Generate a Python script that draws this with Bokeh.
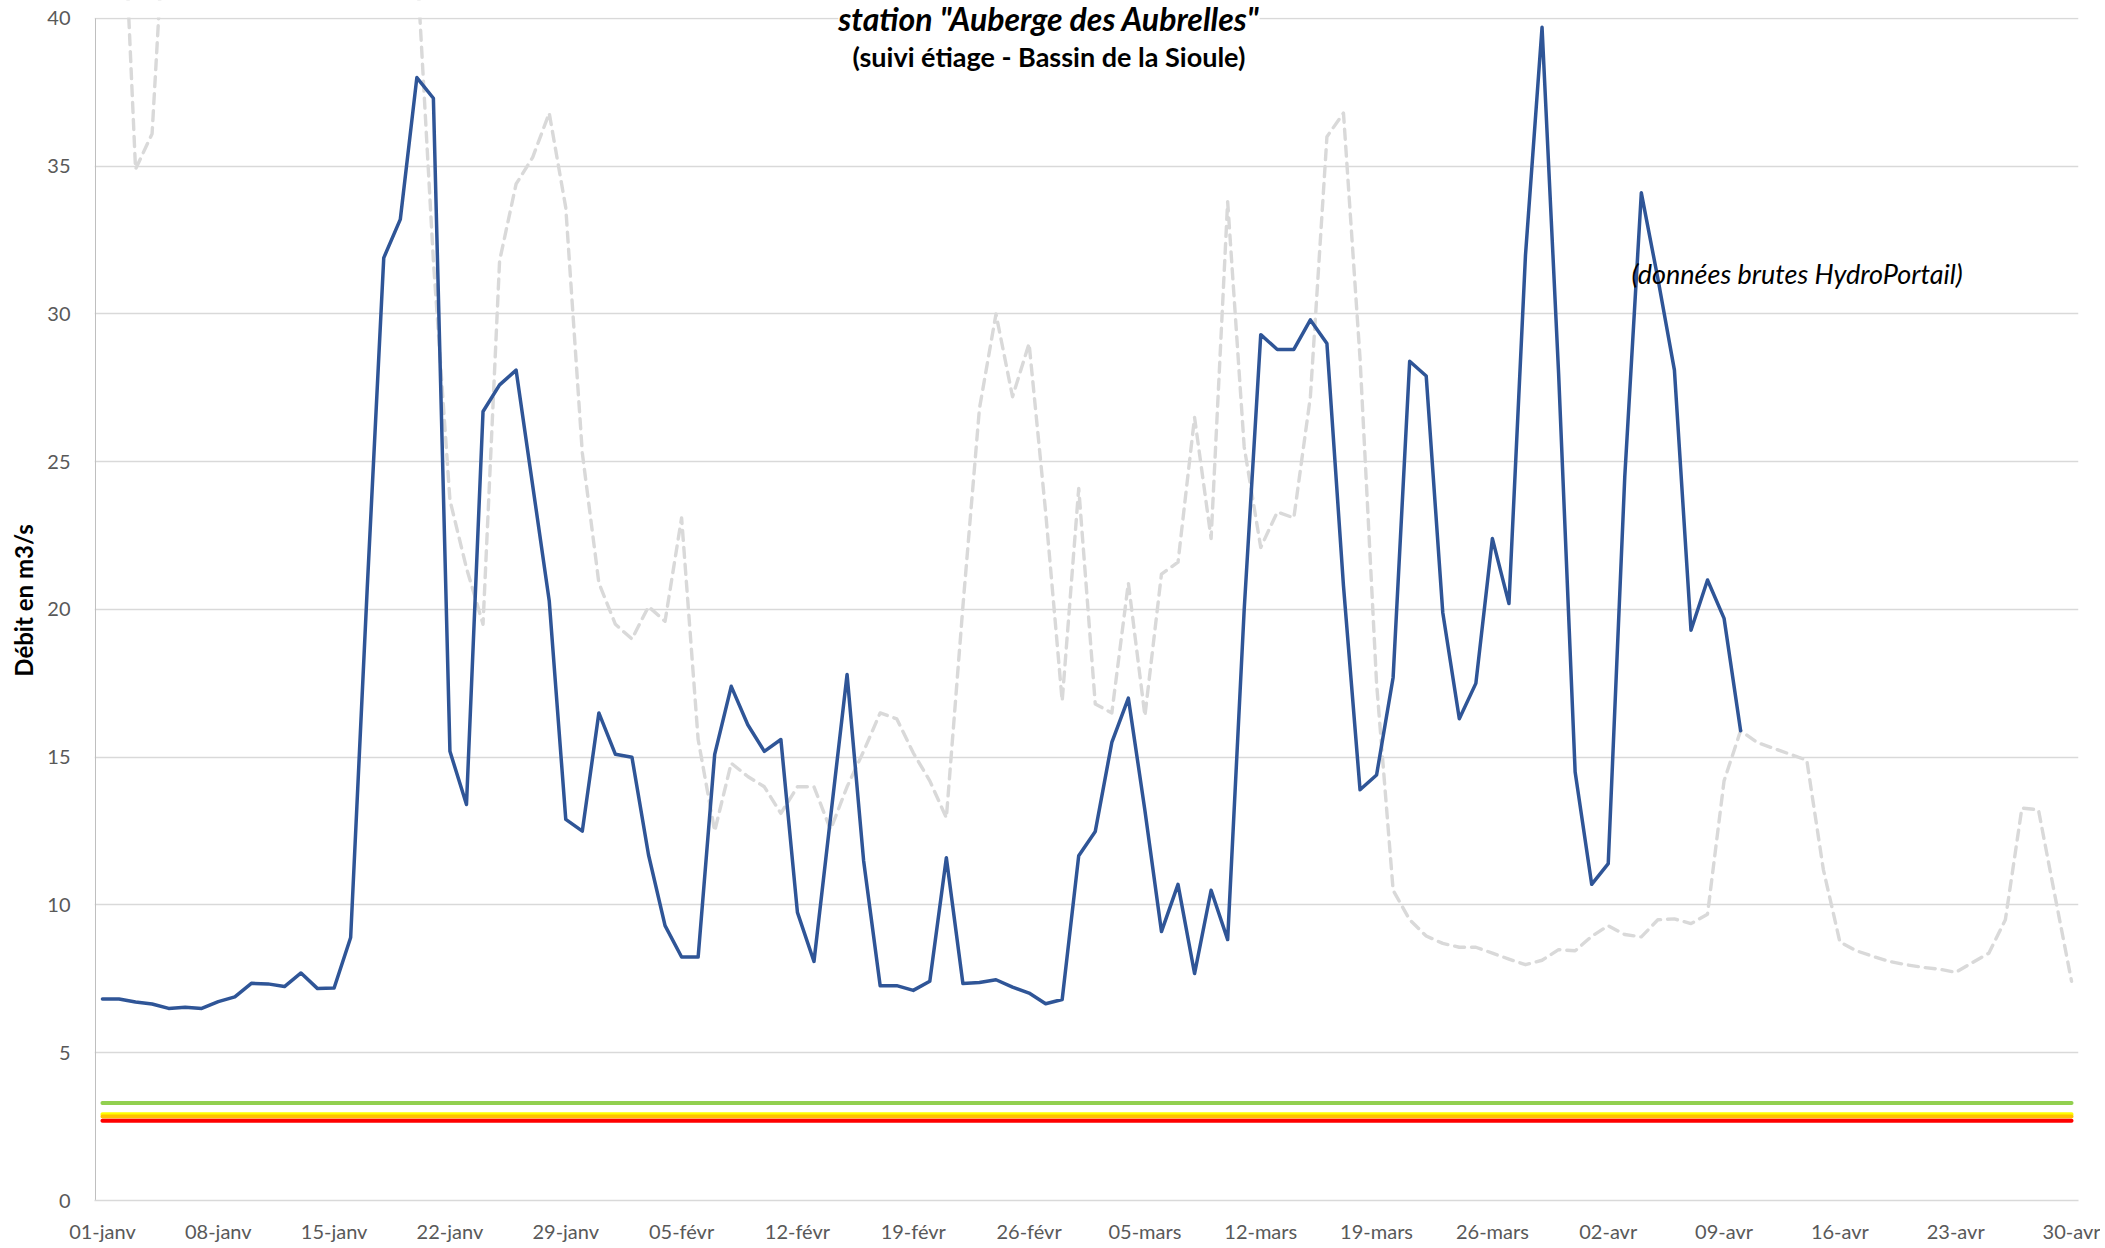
import math
from bokeh.plotting import figure
from bokeh.models import Range1d, FixedTicker, Label, BoxAnnotation
from bokeh.embed import file_html
from bokeh.resources import INLINE

NaN = float("nan")

# ---- data ----
tick_labels = ["01-janv", "08-janv", "15-janv", "22-janv", "29-janv", "05-févr",
               "12-févr", "19-févr", "26-févr", "05-mars", "12-mars", "19-mars",
               "26-mars", "02-avr", "09-avr", "16-avr", "23-avr", "30-avr"]
nb_jours = 120
jours = list(range(nb_jours))
tick_positions = jours[::7]

# current year (blue), 01-janv .. 10-avr
debit_annee = [
    6.82, 6.82, 6.72, 6.65, 6.50, 6.54, 6.50, 6.73, 6.89, 7.35,
    7.33, 7.24, 7.70, 7.17, 7.19, 8.9, 20.7, 31.9, 33.2, 38.0,
    37.3, 15.2, 13.4, 26.7, 27.6, 28.1, 24.2, 20.3, 12.9, 12.5,
    16.5, 15.1, 15.0, 11.7, 9.3, 8.24, 8.24, 15.1, 17.4, 16.1,
    15.2, 15.6, 9.75, 8.09, 12.95, 17.8, 11.5, 7.27, 7.27, 7.11,
    7.42, 11.6, 7.34, 7.38, 7.47, 7.22, 7.02, 6.66, 6.80, 11.67,
    12.49, 15.5, 17.0, 13.2, 9.1, 10.7, 7.68, 10.5, 8.83, 20.0,
    29.3, 28.8, 28.8, 29.8, 29.0, 20.8, 13.9, 14.4, 17.7, 28.4,
    27.9, 19.9, 16.3, 17.5, 22.4, 20.2, 32.0, 39.7, 28.0, 14.5,
    10.7, 11.4, 24.5, 34.1, 31.2, 28.1, 19.3, 21.0, 19.7, 15.9,
]

# previous year (grey dashed); NaN = above the 40 m3/s axis limit, not readable
debit_annee_prec = [
    NaN, 47.5, 34.9, 36.1, 46.0, NaN, NaN, NaN, NaN, NaN,
    NaN, NaN, NaN, NaN, NaN, NaN, NaN, NaN, NaN, 41.9,
    31.8, 23.7, 21.4, 19.5, 31.8, 34.4, 35.3, 36.8, 33.6, 25.3,
    20.9, 19.5, 19.0, 20.1, 19.6, 23.1, 15.6, 12.5, 14.8, 14.35,
    14.0, 13.1, 14.0, 14.0, 12.55, 14.0, 15.2, 16.5, 16.3, 15.15,
    14.2, 12.95, 20.1, 26.8, 30.0, 27.2, 29.0, 23.3, 16.9, 24.1,
    16.8, 16.5, 20.9, 16.4, 21.2, 21.6, 26.5, 22.4, 33.8, 25.5,
    22.1, 23.3, 23.1, 27.2, 36.0, 36.8, 28.5, 17.5, 10.5, 9.5,
    8.95, 8.7, 8.57, 8.57, 8.37, 8.17, 7.98, 8.13, 8.49, 8.45,
    8.94, 9.3, 9.0, 8.92, 9.5, 9.53, 9.37, 9.69, 14.2, 15.9,
    15.5, 15.3, 15.1, 14.9, 11.2, 8.75, 8.45, 8.26, 8.09, 7.98,
    7.89, 7.83, 7.72, 8.05, 8.37, 9.5, 13.28, 13.22, 10.3, 7.42,
]

# low-water thresholds (m3/s)
seuil_vigilance = 3.3
seuil_alerte = 2.92
seuil_alerte_renforcee = 2.84
seuil_crise = 2.7

y_min, y_max = 0, 40
y_ticks = [0, 5, 10, 15, 20, 25, 30, 35, 40]

titre_1 = 'station "Auberge des Aubrelles"'
titre_2 = "(suivi étiage - Bassin de la Sioule)"
note = "(données brutes HydroPortail)"
y_label = "Débit en m3/s"

FONT = "Lato"

# layout (pixels)
W, H = 2100, 1245
frame_left, frame_right, frame_bottom = 94, 2078, 1201
px_per_unit = 29.575
px_per_day = 16.55
x_start = -0.42 - 1.0 / px_per_day
x_end = nb_jours - 1 + 0.42
y_end = y_max + 18.0 / px_per_unit   # headroom so the title can sit over the top gridline

p = figure(width=W, height=H, output_backend="svg", toolbar_location=None,
           x_range=Range1d(x_start, x_end), y_range=Range1d(y_min, y_end),
           min_border_left=frame_left, min_border_right=W - frame_right,
           min_border_top=0, min_border_bottom=H - frame_bottom)
p.outline_line_color = None
p.background_fill_color = "white"
p.border_fill_color = "white"

p.xgrid.grid_line_color = None
p.ygrid.grid_line_color = "#d9d9d9"
p.ygrid.grid_line_width = 1.6
p.yaxis.ticker = FixedTicker(ticks=y_ticks)
p.xaxis.ticker = FixedTicker(ticks=tick_positions)
p.xaxis.major_label_overrides = {t: l for t, l in zip(tick_positions, tick_labels)}

for ax in (p.xaxis[0], p.yaxis[0]):
    ax.major_tick_line_color = None
    ax.minor_tick_line_color = None
    ax.major_tick_in = 0
    ax.major_tick_out = 0
    ax.major_label_text_font = FONT
    ax.major_label_text_font_size = "20px"
    ax.major_label_text_color = "#595959"

p.xaxis.axis_line_color = "#d9d9d9"
p.xaxis.axis_line_width = 1.6
p.xaxis.major_label_standoff = 18
p.yaxis.axis_line_color = None
p.yaxis.major_label_standoff = 24
p.yaxis.axis_label = y_label
p.yaxis.axis_label_text_font = FONT
p.yaxis.axis_label_text_font_style = "bold"
p.yaxis.axis_label_text_font_size = "24px"
p.yaxis.axis_label_text_color = "black"
p.yaxis.axis_label_standoff = 6

# vertical axis line from 0 to 40 only
p.segment(x0=[-0.42], y0=[y_min], x1=[-0.42], y1=[y_max], line_color="#bfbfbf", line_width=1)

# thresholds
for val, col in [(seuil_vigilance, "#92d050"), (seuil_alerte, "#ffff00"),
                 (seuil_alerte_renforcee, "#ffc000"), (seuil_crise, "#ff0000")]:
    p.line(jours, [val] * nb_jours, line_color=col, line_width=4, line_cap="round")

# previous year
p.line(jours, debit_annee_prec, line_color="#d9d9d9", line_width=3.4,
       line_dash="10 7", line_cap="round", line_join="round")

# current year
p.line(jours[:len(debit_annee)], debit_annee, line_color="#2f5597", line_width=3.5,
       line_join="round", line_cap="round")

# mask everything drawn above the 40 m3/s limit
p.add_layout(BoxAnnotation(bottom=y_max + 1.0 / px_per_unit, fill_color="white",
                           fill_alpha=1.0, line_color=None))

p.add_layout(Label(x=57.2, y=39.99, text=titre_1, text_align="center",
                   text_baseline="alphabetic", text_font=FONT, text_font_style="bold italic",
                   text_font_size="32px", text_color="black",
                   background_fill_color="white"))
p.add_layout(Label(x=57.2, y=38.72, text=titre_2, text_align="center",
                   text_baseline="alphabetic", text_font=FONT, text_font_style="bold",
                   text_font_size="27px", text_color="black"))
p.add_layout(Label(x=92.4, y=31.37, text=note, text_align="left",
                   text_baseline="alphabetic", text_font=FONT, text_font_style="italic",
                   text_font_size="27px", text_color="black"))

open("out.html", "w").write(file_html(p, INLINE))
